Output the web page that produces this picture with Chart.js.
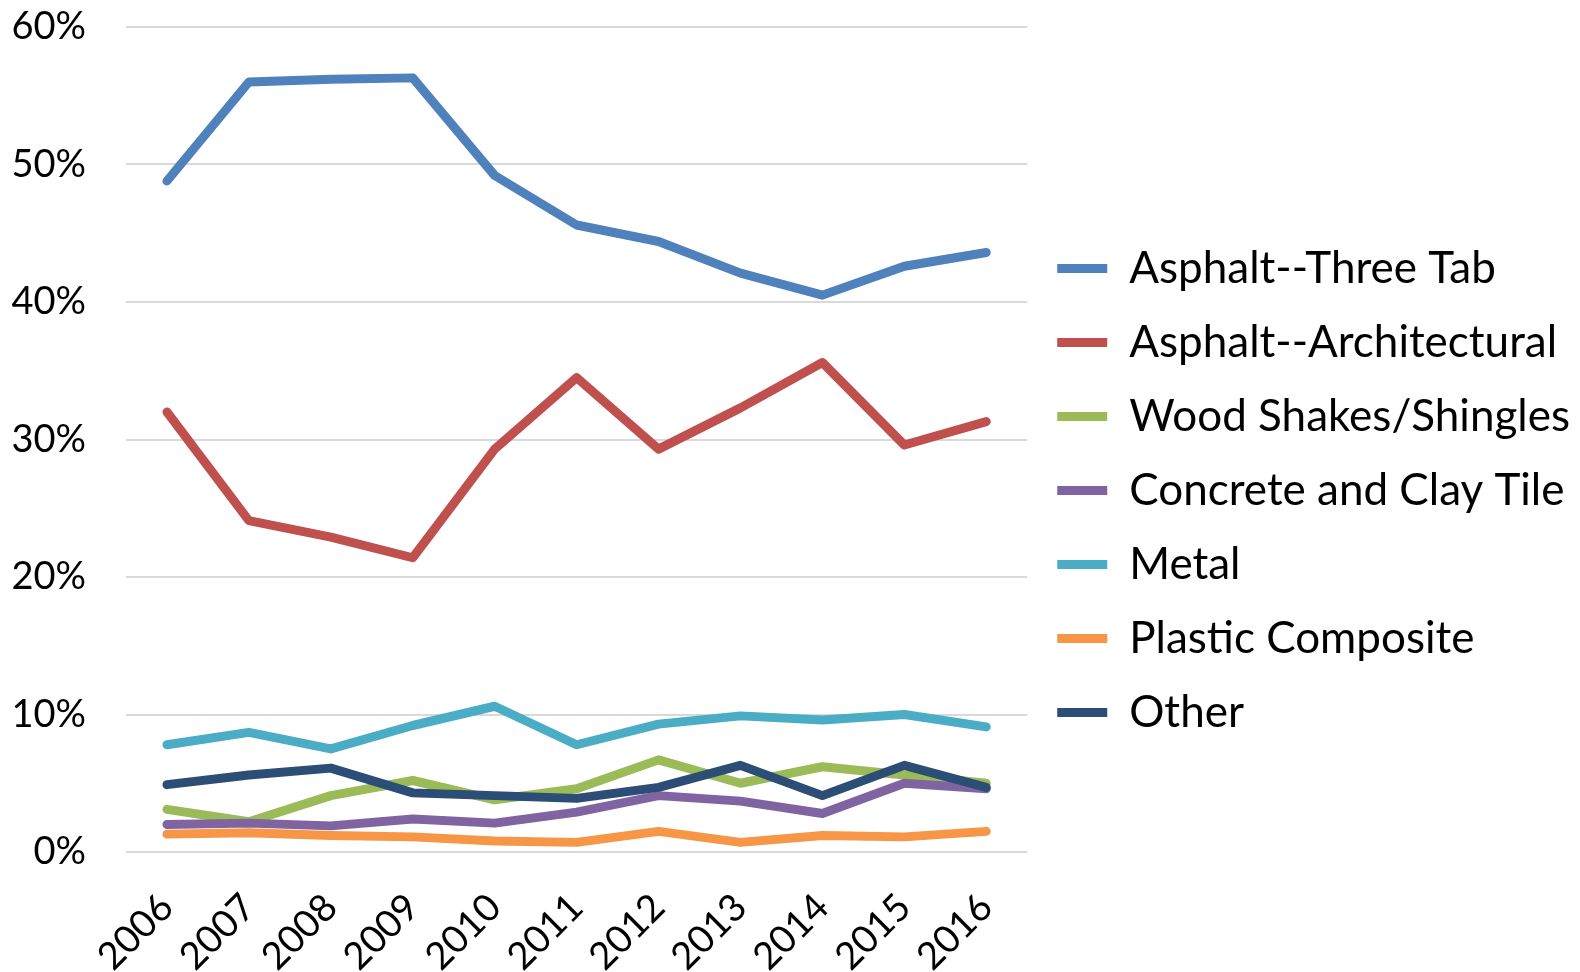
<!DOCTYPE html>
<html>
<head>
<meta charset="utf-8">
<title>Roofing material share</title>
<script src="https://cdn.jsdelivr.net/npm/chart.js@4.4.1/dist/chart.umd.min.js"></script>
<style>
  html, body { margin: 0; padding: 0; background: #fff; }
  #wrap { width: 1580px; height: 972px; }
</style>
</head>
<body>
<div id="wrap"><canvas id="roofChart" width="1580" height="972"></canvas></div>
<script>
// share of new homes by roofing material, in percent
var years = ["2006", "2007", "2008", "2009", "2010", "2011", "2012", "2013", "2014", "2015", "2016"];
var threeTab      = [48.8, 56.0, 56.2, 56.3, 49.2, 45.6, 44.4, 42.1, 40.5, 42.6, 43.6];
var architectural = [32.0, 24.1, 22.9, 21.4, 29.3, 34.5, 29.3, 32.3, 35.6, 29.6, 31.3];
var woodShakes    = [3.1, 2.2, 4.1, 5.2, 3.8, 4.6, 6.7, 5.0, 6.2, 5.6, 5.0];
var concreteClay  = [2.0, 2.1, 1.9, 2.4, 2.1, 2.9, 4.1, 3.7, 2.8, 5.0, 4.6];
var metal         = [7.8, 8.7, 7.5, 9.2, 10.6, 7.8, 9.3, 9.9, 9.6, 10.0, 9.1];
var plastic       = [1.3, 1.4, 1.2, 1.1, 0.8, 0.7, 1.5, 0.7, 1.2, 1.1, 1.5];
var other         = [4.9, 5.6, 6.1, 4.3, 4.1, 3.9, 4.7, 6.3, 4.1, 6.3, 4.7];

var seriesNames = ["Asphalt--Three Tab", "Asphalt--Architectural", "Wood Shakes/Shingles",
                   "Concrete and Clay Tile", "Metal", "Plastic Composite", "Other"];
var seriesData = [threeTab, architectural, woodShakes, concreteClay, metal, plastic, other];
var seriesColors = ["#4F81BD", "#C0504D", "#9BBB59", "#8064A2", "#4BACC6", "#F79646", "#2C4D75"];

var fontName = "Lato, 'Liberation Sans', sans-serif";

window.addEventListener('load', function() {
    var datasets = seriesNames.map(function(name, i) {
        return {
            label: name,
            data: seriesData[i],
            borderColor: seriesColors[i],
            backgroundColor: seriesColors[i],
            borderWidth: 9,
            borderCapStyle: 'round',
            borderJoinStyle: 'round',
            pointRadius: 0,
            pointHoverRadius: 0,
            tension: 0,
            fill: false,
            // later series sit on top, as in the original
            order: seriesNames.length - i
        };
    });

    var ctx = document.getElementById('roofChart').getContext('2d');
    new Chart(ctx, {
        type: 'line',
        data: { labels: years, datasets: datasets },
        options: {
            responsive: false,
            animation: false,
            layout: { padding: { left: 12, top: 9, right: 0, bottom: 0 } },
            plugins: {
                tooltip: { enabled: false },
                legend: {
                    position: 'right',
                    align: 'center',
                    maxWidth: 700,
                    labels: {
                        usePointStyle: true,
                        pointStyle: 'line',
                        pointStyleWidth: 50,
                        color: '#000',
                        padding: 30,
                        font: { family: fontName, size: 44 },
                        sort: function(a, b) { return a.datasetIndex - b.datasetIndex; }
                    }
                }
            },
            scales: {
                x: {
                    offset: true,
                    grid: { display: false },
                    border: { display: false },
                    ticks: {
                        color: '#000',
                        minRotation: 45,
                        maxRotation: 45,
                        padding: 25,
                        font: { family: fontName, size: 38 }
                    },
                    afterFit: function(scale) {
                        scale.height = 120;
                    }
                },
                y: {
                    min: 0,
                    max: 60,
                    border: { display: false },
                    grid: { color: '#d9d9d9', lineWidth: 2, drawTicks: false },
                    ticks: {
                        stepSize: 10,
                        color: '#000',
                        padding: 40,
                        font: { family: fontName, size: 38 },
                        callback: function(v) { return v + '%'; }
                    },
                    afterFit: function(scale) {
                        scale.width = 114;
                        scale.paddingTop = 27;
                        scale.paddingBottom = 22;
                    }
                }
            }
        }
    });
});
</script>
</body>
</html>
